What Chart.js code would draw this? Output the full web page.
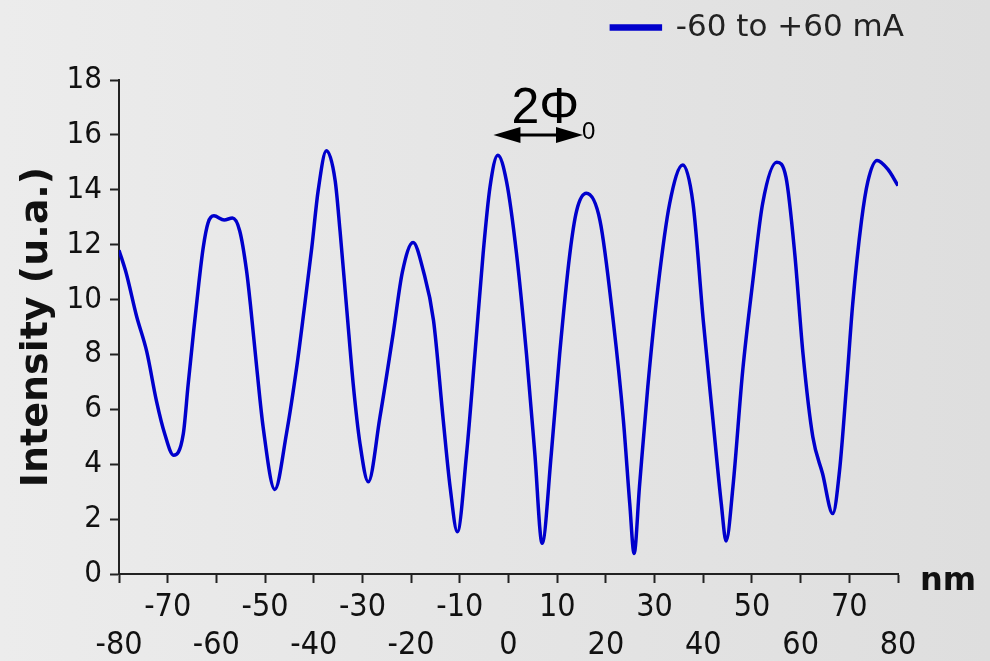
<!DOCTYPE html>
<html>
<head>
<meta charset="utf-8">
<script src="https://cdn.jsdelivr.net/npm/chart.js@4"></script>
<style>
    html, body { margin: 0; padding: 0; }
    body { width: 990px; height: 661px; background: linear-gradient(to right, #ececec, #dedede); }
    #wrap { width: 990px; height: 661px; }
</style>
</head>
<body>
<div id="wrap"><canvas id="fringeChart"></canvas></div>
<script>
// position (nm) and intensity
const positions = [-80, -78.5, -76.4, -74.3, -72.3, -70.6, -68.8, -66.8, -65.8, -64.7, -63.6, -62.7, -61.7, -60.5, -58.4, -56.7,
    -55.2, -53.8, -53.0, -51.7, -50.4, -48.0, -45.6, -43.5, -42.0, -40.4, -39.1, -37.4, -35.6, -34.6, -33.2, -31.9,
    -30.5, -28.8, -26.4, -23.7, -21.8, -19.6, -17.5, -15.4, -13.4, -12.0, -10.5, -8.6, -6.9, -5.2, -3.8,
    -2.2, -0.4, 1.65, 3.7, 5.4, 6.9, 8.8, 10.5, 12.6, 14.0, 16.0, 18.8, 21.5, 23.6, 24.9, 25.8,
    26.9, 28.6, 30.7, 33.1, 35.8, 37.9, 40.0, 42.0, 43.7, 44.7, 46.1, 48.1, 50.2, 52.2, 55.1, 57.0,
    58.8, 60.5, 62.5, 64.5, 66.6, 68.0, 69.4, 70.7, 72.5, 73.8, 75.7, 77.9, 80];
const intensity = [11.8, 10.95, 9.4, 8.1, 6.3, 5.1, 4.33, 5.1, 6.9, 8.8, 10.6, 11.9, 12.8, 13.05, 12.9, 12.97,
    12.5, 11.05, 9.8, 7.5, 5.36, 3.08, 5.12, 7.54, 9.6, 11.9, 13.96, 15.42, 14.33, 12.5, 9.6, 6.93,
    4.75, 3.36, 5.72, 8.75, 11.0, 12.08, 11.05, 9.24, 5.6, 3.18, 1.54, 4.4, 8.0, 11.7, 14.1,
    15.26, 14.3, 11.67, 8.0, 4.4, 1.12, 4.4, 8.0, 11.67, 13.24, 13.87, 12.87, 9.24, 5.6, 2.57, 0.75,
    3.18, 6.8, 10.45, 13.5, 14.9, 13.5, 9.24, 5.6, 2.57, 1.2, 3.18, 7.4, 10.7, 13.5, 15.0, 14.45,
    11.66, 8.0, 5.0, 3.66, 2.2, 3.78, 6.8, 9.84, 12.87, 14.3, 15.07, 14.75, 14.15];
const seriesName = '-60 to +60 mA';
const xRange = [-80, 80];
const yRange = [0, 18];
// double arrow marking one period, in data units
const periodArrow = { from: -3.1, to: 15.3, y: 16.0 };

const condensed = "'DejaVu Sans Condensed', 'DejaVu Sans', sans-serif";

// push the plot area down below the legend
const legendSpace = {
    id: 'legendSpace',
    afterInit(chart) {
        const lg = chart.legend;
        if (!lg) return;
        const fit = lg.fit;
        lg.fit = function () {
            fit.call(this);
            this.height += 27;
        };
    }
};

const annotations = {
    id: 'annotations',
    afterDraw(chart) {
        const c = chart.ctx;
        const xs = chart.scales.x, ys = chart.scales.y;
        const x1 = xs.getPixelForValue(periodArrow.from);
        const x2 = xs.getPixelForValue(periodArrow.to);
        const ay = ys.getPixelForValue(periodArrow.y);
        c.save();
        c.fillStyle = '#000';
        c.strokeStyle = '#000';
        c.lineWidth = 3;
        c.beginPath();
        c.moveTo(x1 + 20, ay);
        c.lineTo(x2 - 20, ay);
        c.stroke();
        // arrow heads
        c.beginPath();
        c.moveTo(x1, ay);
        c.lineTo(x1 + 27, ay - 8);
        c.lineTo(x1 + 27, ay + 8);
        c.closePath();
        c.fill();
        c.beginPath();
        c.moveTo(x2, ay);
        c.lineTo(x2 - 27, ay - 8);
        c.lineTo(x2 - 27, ay + 8);
        c.closePath();
        c.fill();
        // 2Φ0 label
        c.textBaseline = 'alphabetic';
        c.textAlign = 'left';
        c.font = "50px 'Liberation Sans', Arial, sans-serif";
        c.fillText('2Φ', x1 + 18, ay - 12);
        c.font = "24px 'Liberation Sans', Arial, sans-serif";
        c.fillText('0', x2 - 1, ay + 4);
        // axis unit
        c.font = "bold 32px 'DejaVu Sans', sans-serif";
        c.fillStyle = '#111';
        c.fillText('nm', xs.right + 22, ys.bottom + 16);
        c.restore();
    }
};

const points = positions.map((p, i) => ({ x: p, y: intensity[i] }));

new Chart(document.getElementById('fringeChart'), {
    type: 'line',
    data: {
        datasets: [{
            label: seriesName,
            data: points,
            borderColor: '#0000cc',
            backgroundColor: '#0000cc',
            borderWidth: 3.5,
            pointRadius: 0,
            cubicInterpolationMode: 'monotone',
            fill: false
        }]
    },
    options: {
        responsive: true,
        maintainAspectRatio: false,
        animation: false,
        layout: { padding: { left: 0, right: 76, top: 2, bottom: 0 } },
        plugins: {
            tooltip: { enabled: false },
            legend: {
                position: 'top',
                align: 'end',
                labels: {
                    color: '#222',
                    boxWidth: 49,
                    boxHeight: 3,
                    padding: 10,
                    font: { family: "'DejaVu Sans', sans-serif", size: 31 }
                }
            }
        },
        scales: {
            x: {
                type: 'linear',
                min: xRange[0],
                max: xRange[1],
                afterFit(scale) { scale.height = 87; },
                border: { color: '#222', width: 2 },
                grid: { drawOnChartArea: false, drawTicks: true, tickLength: 9, color: '#222', tickWidth: 2 },
                ticks: {
                    stepSize: 10,
                    autoSkip: false,
                    maxRotation: 0,
                    padding: 5,
                    color: '#111',
                    font: { family: condensed, size: 32, lineHeight: 1.2 },
                    // odd tens on the upper row, even tens on the lower row
                    callback: (v) => (Math.abs(v) / 10) % 2 === 1 ? [String(v), ''] : ['', String(v)]
                }
            },
            y: {
                min: yRange[0],
                max: yRange[1],
                afterFit(scale) { scale.width = 119; },
                border: { color: '#222', width: 2 },
                grid: { drawOnChartArea: false, drawTicks: true, tickLength: 9, color: '#222', tickWidth: 2 },
                ticks: {
                    stepSize: 2,
                    padding: 8,
                    color: '#111',
                    font: { family: condensed, size: 31 }
                },
                title: {
                    display: true,
                    text: 'Intensity (u.a.)',
                    color: '#111',
                    padding: { top: 14, bottom: 0 },
                    font: { family: "'DejaVu Sans', sans-serif", size: 38, weight: 'bold' }
                }
            },
            // empty right-hand spacer so the legend reaches further right than the plot
            spacer: {
                position: 'right',
                display: true,
                min: 0,
                max: 1,
                afterFit(scale) { scale.width = 16; },
                border: { display: false },
                grid: { display: false },
                ticks: { display: false }
            }
        }
    },
    plugins: [legendSpace, annotations]
});
</script>
</body>
</html>
